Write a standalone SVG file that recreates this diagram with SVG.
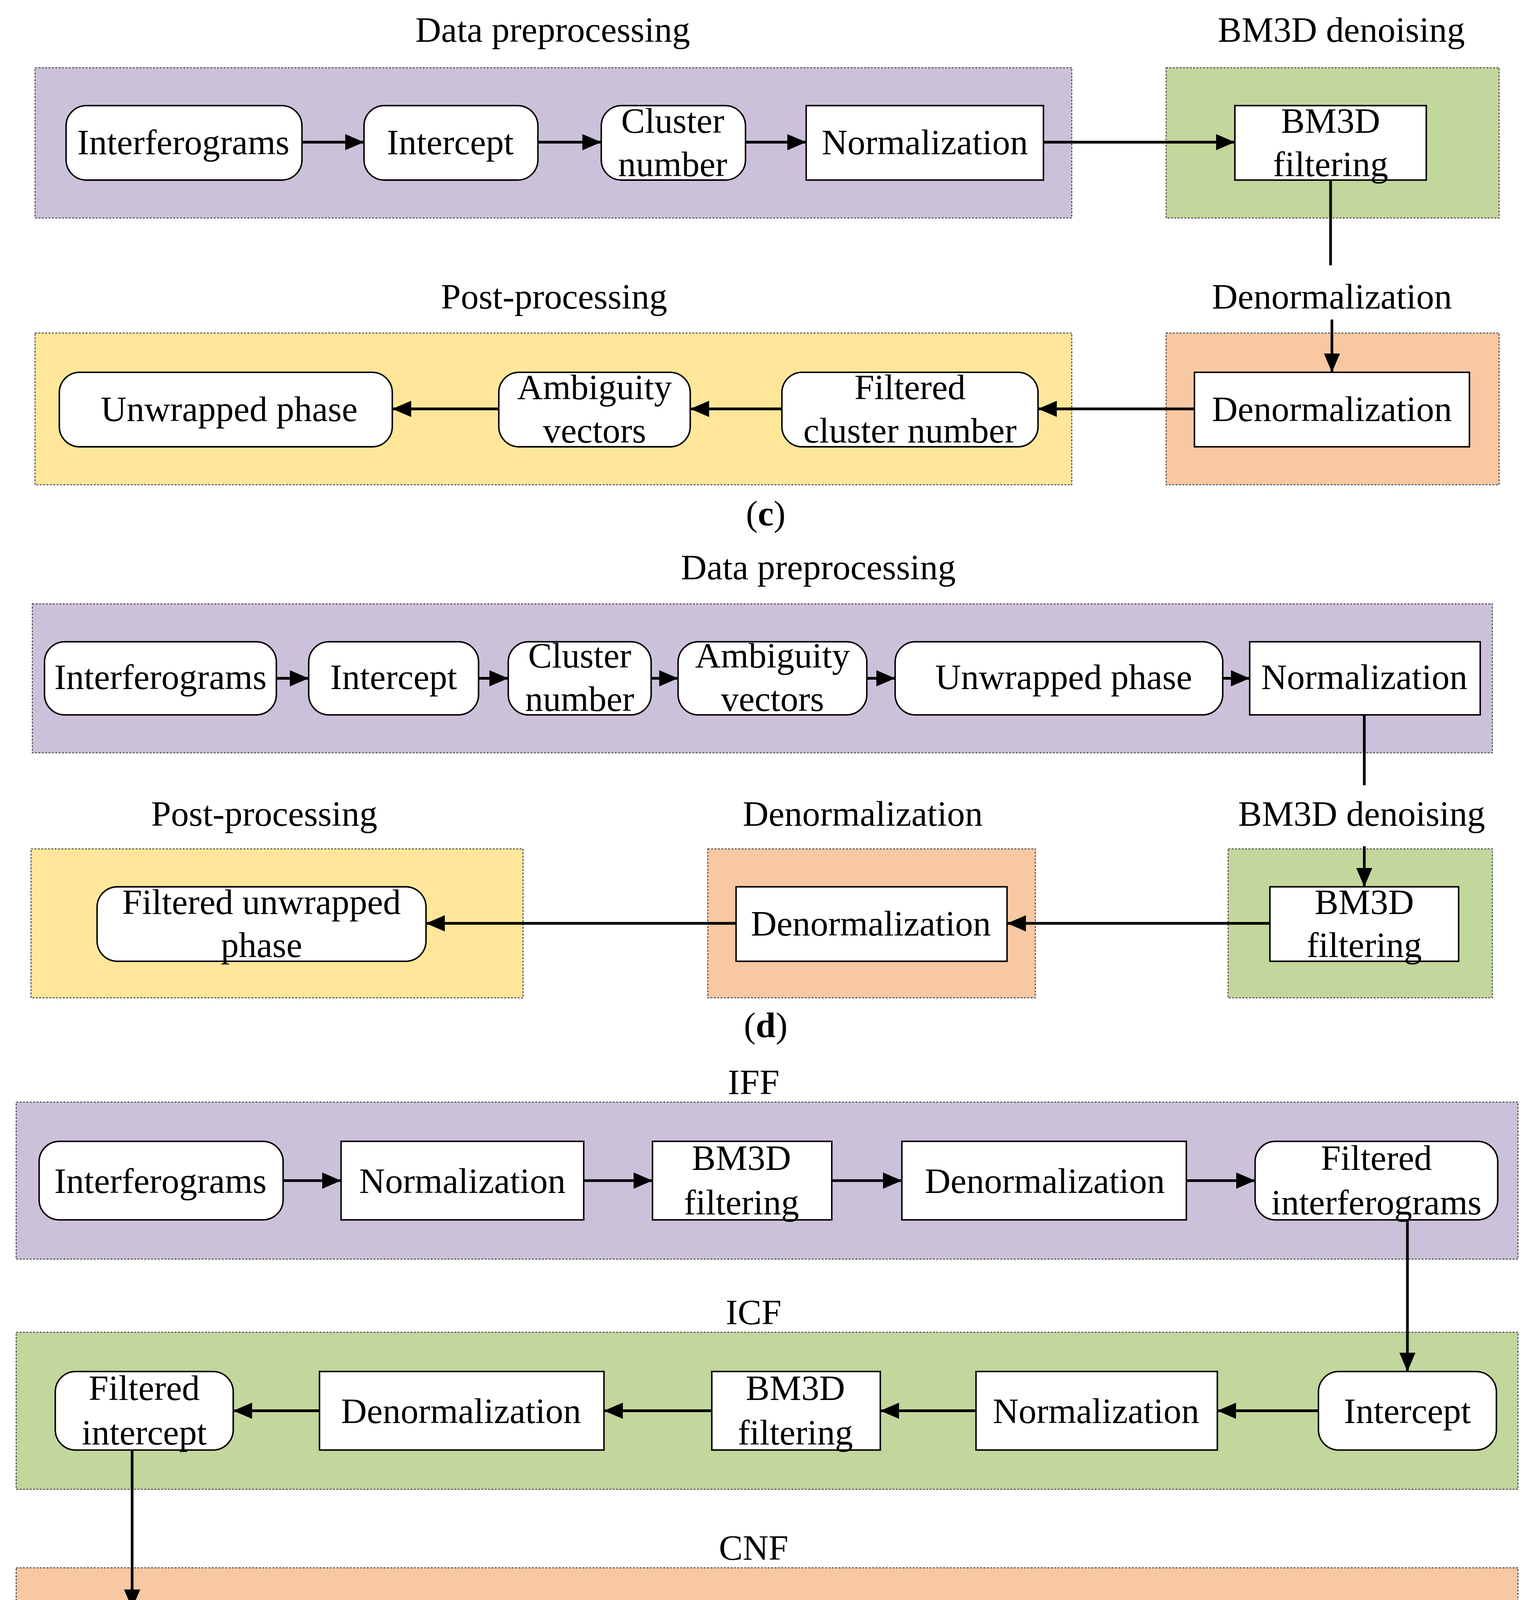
<svg xmlns="http://www.w3.org/2000/svg" width="3928" height="5407" viewBox="0 0 3928 5407">
<style>
text{font-family:"Liberation Serif","Times New Roman",serif;font-size:26.5px;fill:#000;text-anchor:middle}
.n{fill:#fff;stroke:#000;stroke-width:1.1}
.p{stroke:#555;stroke-width:0.8;stroke-dasharray:1.5 1}
.pu{fill:#CCC1DA}.gr{fill:#C3D69B}.ye{fill:#FFE699}.or{fill:#F8C8A2}
.c line,.c path{stroke:#000;stroke-width:2;fill:none}
.c .a{marker-end:url(#ah)}
</style>
<defs>
<marker id="ah" markerUnits="userSpaceOnUse" markerWidth="14" markerHeight="14" viewBox="0 0 14 14" refX="14" refY="7" orient="auto">
<path d="M0,1 L14,7 L0,13 Z" fill="#000"/>
</marker>
</defs>
<rect width="3928" height="5407" fill="#fff"/>
<g transform="scale(3.452,3.466)">
<g id="panels">
<rect class="p pu" x="26" y="50" width="769" height="111"/>
<rect class="p gr" x="865" y="50" width="247" height="111"/>
<rect class="p ye" x="26" y="246" width="769" height="112"/>
<rect class="p or" x="865" y="246" width="247" height="112"/>
<rect class="p pu" x="24" y="446" width="1083" height="110"/>
<rect class="p ye" x="23" y="627" width="365" height="110"/>
<rect class="p or" x="525" y="627" width="243" height="110"/>
<rect class="p gr" x="911" y="627" width="196" height="110"/>
<rect class="p pu" x="12" y="814" width="1114" height="116"/>
<rect class="p gr" x="12" y="984" width="1114" height="116"/>
<rect class="p or" x="12" y="1158" width="1114" height="117"/>
<rect class="p ye" x="14" y="1333" width="1113" height="189"/>
</g>
<g id="labels">
<text x="410" y="31">Data preprocessing</text>
<text x="995" y="31">BM3D denoising</text>
<text x="988" y="228">Denormalization</text>
<text x="411" y="228">Post-processing</text>
<text x="568" y="388">(<tspan font-weight="bold">c</tspan>)</text>
<text x="607" y="428">Data preprocessing</text>
<text x="196" y="610">Post-processing</text>
<text x="640" y="610">Denormalization</text>
<text x="1010" y="610">BM3D denoising</text>
<text x="568" y="766">(<tspan font-weight="bold">d</tspan>)</text>
<text x="559" y="808">IFF</text>
<text x="559" y="978">ICF</text>
<text x="559" y="1152">CNF</text>
<text x="559" y="1325">UPF</text>
<text x="568" y="1551">(<tspan font-weight="bold">e</tspan>)</text>
</g>
<g id="connectors" class="c">
<line class="a" x1="224" y1="105" x2="270" y2="105"/>
<line class="a" x1="399" y1="105" x2="446" y2="105"/>
<line class="a" x1="553" y1="105" x2="598" y2="105"/>
<line class="a" x1="774" y1="105" x2="916" y2="105"/>
<line x1="987" y1="133" x2="987" y2="196"/>
<line class="a" x1="988" y1="236" x2="988" y2="275"/>
<line class="a" x1="886" y1="302" x2="770" y2="302"/>
<line class="a" x1="580" y1="302" x2="512" y2="302"/>
<line class="a" x1="370" y1="302" x2="291" y2="302"/>
<line class="a" x1="205" y1="501" x2="229" y2="501"/>
<line class="a" x1="355" y1="501" x2="377" y2="501"/>
<line class="a" x1="483" y1="501" x2="503" y2="501"/>
<line class="a" x1="643" y1="501" x2="664" y2="501"/>
<line class="a" x1="907" y1="501" x2="927" y2="501"/>
<line x1="1012" y1="528" x2="1012" y2="580"/>
<line class="a" x1="1012" y1="625" x2="1012" y2="655"/>
<line class="a" x1="942" y1="682" x2="747" y2="682"/>
<line class="a" x1="546" y1="682" x2="316" y2="682"/>
<line class="a" x1="210" y1="872" x2="253" y2="872"/>
<line class="a" x1="433" y1="872" x2="484" y2="872"/>
<line class="a" x1="617" y1="872" x2="669" y2="872"/>
<line class="a" x1="880" y1="872" x2="931" y2="872"/>
<line class="a" x1="1044" y1="901" x2="1044" y2="1013"/>
<line class="a" x1="978" y1="1042" x2="903" y2="1042"/>
<line class="a" x1="724" y1="1042" x2="653" y2="1042"/>
<line class="a" x1="528" y1="1042" x2="448" y2="1042"/>
<line class="a" x1="237" y1="1042" x2="173" y2="1042"/>
<line class="a" x1="98" y1="1071" x2="98" y2="1188"/>
<line class="a" x1="154" y1="1217" x2="213" y2="1217"/>
<line class="a" x1="393" y1="1217" x2="453" y2="1217"/>
<line class="a" x1="599" y1="1217" x2="647" y2="1217"/>
<line class="a" x1="857" y1="1217" x2="915" y2="1217"/>
<line class="a" x1="1036" y1="1246" x2="1036" y2="1362"/>
<line class="a" x1="963" y1="1390" x2="915" y2="1390"/>
<line class="a" x1="720" y1="1390" x2="668" y2="1390"/>
<line class="a" x1="472" y1="1390" x2="425" y2="1390"/>
<line class="a" x1="308" y1="1390" x2="252" y2="1390"/>
<line class="a" x1="147" y1="1419" x2="147" y2="1450"/>
</g>
<g id="c-interferograms"><rect class="n" x="49" y="78" width="175" height="55" rx="15"/><text x="136" y="114">Interferograms</text></g>
<g id="c-intercept"><rect class="n" x="270" y="78" width="129" height="55" rx="15"/><text x="334" y="114">Intercept</text></g>
<g id="c-cluster"><rect class="n" x="446" y="78" width="107" height="55" rx="15"/><text x="499" y="98">Cluster</text><text x="499" y="130">number</text></g>
<g id="c-norm"><rect class="n" x="598" y="78" width="176" height="55"/><text x="686" y="114">Normalization</text></g>
<g id="c-bm3d"><rect class="n" x="916" y="78" width="142" height="55"/><text x="987" y="98">BM3D</text><text x="987" y="130">filtering</text></g>
<g id="c-denorm"><rect class="n" x="886" y="275" width="204" height="55"/><text x="988" y="311">Denormalization</text></g>
<g id="c-filtcluster"><rect class="n" x="580" y="275" width="190" height="55" rx="15"/><text x="675" y="295">Filtered</text><text x="675" y="327">cluster number</text></g>
<g id="c-ambig"><rect class="n" x="370" y="275" width="142" height="55" rx="15"/><text x="441" y="295">Ambiguity</text><text x="441" y="327">vectors</text></g>
<g id="c-unwrapped"><rect class="n" x="44" y="275" width="247" height="55" rx="15"/><text x="170" y="311">Unwrapped phase</text></g>
<g id="d-interferograms"><rect class="n" x="33" y="474" width="172" height="54" rx="15"/><text x="119" y="509">Interferograms</text></g>
<g id="d-intercept"><rect class="n" x="229" y="474" width="126" height="54" rx="15"/><text x="292" y="509">Intercept</text></g>
<g id="d-cluster"><rect class="n" x="377" y="474" width="106" height="54" rx="15"/><text x="430" y="493">Cluster</text><text x="430" y="525">number</text></g>
<g id="d-ambig"><rect class="n" x="503" y="474" width="140" height="54" rx="15"/><text x="573" y="493">Ambiguity</text><text x="573" y="525">vectors</text></g>
<g id="d-unwrapped"><rect class="n" x="664" y="474" width="243" height="54" rx="15"/><text x="789" y="509">Unwrapped phase</text></g>
<g id="d-norm"><rect class="n" x="927" y="474" width="171" height="54"/><text x="1012" y="509">Normalization</text></g>
<g id="d-bm3d"><rect class="n" x="942" y="655" width="140" height="55"/><text x="1012" y="675">BM3D</text><text x="1012" y="707">filtering</text></g>
<g id="d-denorm"><rect class="n" x="546" y="655" width="201" height="55"/><text x="646" y="691">Denormalization</text></g>
<g id="d-filtunwrapped"><rect class="n" x="72" y="655" width="244" height="55" rx="15"/><text x="194" y="675">Filtered unwrapped</text><text x="194" y="707">phase</text></g>
<g id="iff-interferograms"><rect class="n" x="29" y="843" width="181" height="58" rx="15"/><text x="119" y="881">Interferograms</text></g>
<g id="iff-norm"><rect class="n" x="253" y="843" width="180" height="58"/><text x="343" y="881">Normalization</text></g>
<g id="iff-bm3d"><rect class="n" x="484" y="843" width="133" height="58"/><text x="550" y="864">BM3D</text><text x="550" y="897">filtering</text></g>
<g id="iff-denorm"><rect class="n" x="669" y="843" width="211" height="58"/><text x="775" y="881">Denormalization</text></g>
<g id="iff-filtinterf"><rect class="n" x="931" y="843" width="180" height="58" rx="15"/><text x="1021" y="864">Filtered</text><text x="1021" y="897">interferograms</text></g>
<g id="icf-intercept"><rect class="n" x="978" y="1013" width="132" height="58" rx="15"/><text x="1044" y="1051">Intercept</text></g>
<g id="icf-norm"><rect class="n" x="724" y="1013" width="179" height="58"/><text x="813" y="1051">Normalization</text></g>
<g id="icf-bm3d"><rect class="n" x="528" y="1013" width="125" height="58"/><text x="590" y="1034">BM3D</text><text x="590" y="1067">filtering</text></g>
<g id="icf-denorm"><rect class="n" x="237" y="1013" width="211" height="58"/><text x="342" y="1051">Denormalization</text></g>
<g id="icf-filtintercept"><rect class="n" x="41" y="1013" width="132" height="58" rx="15"/><text x="107" y="1034">Filtered</text><text x="107" y="1067">intercept</text></g>
<g id="cnf-cluster"><rect class="n" x="43" y="1188" width="111" height="58" rx="15"/><text x="98" y="1209">Cluster</text><text x="98" y="1242">number</text></g>
<g id="cnf-norm"><rect class="n" x="213" y="1188" width="180" height="58"/><text x="303" y="1226">Normalization</text></g>
<g id="cnf-bm3d"><rect class="n" x="453" y="1188" width="146" height="58"/><text x="526" y="1209">BM3D</text><text x="526" y="1242">filtering</text></g>
<g id="cnf-denorm"><rect class="n" x="647" y="1188" width="210" height="58"/><text x="752" y="1226">Denormalization</text></g>
<g id="cnf-filtcluster"><rect class="n" x="915" y="1188" width="196" height="58" rx="15"/><text x="1013" y="1209">Filtered</text><text x="1013" y="1242">cluster number</text></g>
<g id="upf-ambig"><rect class="n" x="963" y="1362" width="146" height="57" rx="15"/><text x="1036" y="1383">Ambiguity</text><text x="1036" y="1416">vectors</text></g>
<g id="upf-unwrapped"><rect class="n" x="720" y="1362" width="195" height="57" rx="15"/><text x="818" y="1383">Unwrapped</text><text x="818" y="1416">phase</text></g>
<g id="upf-norm"><rect class="n" x="472" y="1362" width="196" height="57"/><text x="570" y="1399">Normalization</text></g>
<g id="upf-bm3d"><rect class="n" x="308" y="1362" width="117" height="57"/><text x="366" y="1383">BM3D</text><text x="366" y="1416">filtering</text></g>
<g id="upf-denorm"><rect class="n" x="41" y="1362" width="211" height="57"/><text x="146" y="1399">Denormalization</text></g>
<g id="upf-filtunwrapped"><rect class="n" x="19" y="1450" width="255" height="57" rx="15"/><text x="146" y="1471">Filtered unwrapped</text><text x="146" y="1504">phase</text></g>
</g>
</svg>
